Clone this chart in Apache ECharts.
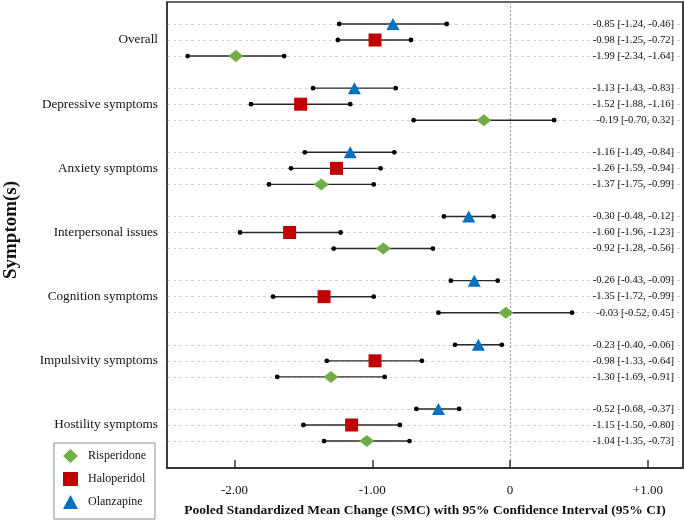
<!DOCTYPE html>
<html><head><meta charset="utf-8">
<script src="https://cdn.jsdelivr.net/npm/echarts@6/dist/echarts.min.js"></script>
<style>html,body{margin:0;padding:0;background:#fff}#c{width:685px;height:520px}</style>
</head><body><div id="c"></div>
<script>
// ---- data ----
const groups = ['Overall','Depressive symptoms','Anxiety symptoms','Interpersonal issues','Cognition symptoms','Impulsivity symptoms','Hostility symptoms'];
const drugNames = ['Olanzapine','Haloperidol','Risperidone']; // row order inside each group (top to bottom)
const olzMean = [-0.85,-1.13,-1.16,-0.30,-0.26,-0.23,-0.52];
const olzLow  = [-1.24,-1.43,-1.49,-0.48,-0.43,-0.40,-0.68];
const olzHigh = [-0.46,-0.83,-0.84,-0.12,-0.09,-0.06,-0.37];
const halMean = [-0.98,-1.52,-1.26,-1.60,-1.35,-0.98,-1.15];
const halLow  = [-1.25,-1.88,-1.59,-1.96,-1.72,-1.33,-1.50];
const halHigh = [-0.72,-1.16,-0.94,-1.23,-0.99,-0.64,-0.80];
const risMean = [-1.99,-0.19,-1.37,-0.92,-0.03,-1.30,-1.04];
const risLow  = [-2.34,-0.70,-1.75,-1.28,-0.52,-1.69,-1.35];
const risHigh = [-1.64,0.32,-0.99,-0.56,0.45,-0.91,-0.73];
const xTickValues = [-2,-1,0,1];
const xTickLabels = ['-2.00','-1.00','0','+1.00'];
const legendOrder = ['Risperidone','Haloperidol','Olanzapine'];

// ---- build ----
const FONT = "'Liberation Serif','Times New Roman',serif";
const drugs = [
  {name:drugNames[0], mean:olzMean, low:olzLow, high:olzHigh, color:'#0070C0', symbol:'triangle', size:[13,12]},
  {name:drugNames[1], mean:halMean, low:halLow, high:halHigh, color:'#C00000', symbol:'rect', size:[13,13]},
  {name:drugNames[2], mean:risMean, low:risLow, high:risHigh, color:'#70AD47', symbol:'diamond', size:[15,12]}
];
const SLOTS = 4;
const rowIndex = (g, d) => g * SLOTS + d;
const allRows = [];
groups.forEach((g, gi) => drugs.forEach((d, di) => allRows.push(rowIndex(gi, di))));
const yMin = -1.37, yMax = 27.68;
const fmt = v => v.toFixed(2);
const ciText = r => {
  const g = Math.floor(r / SLOTS), d = drugs[r % SLOTS];
  return fmt(d.mean[g]) + ' [' + fmt(d.low[g]) + ', ' + fmt(d.high[g]) + ']';
};

const series = [];
series.push({
  type:'scatter', data:[], silent:true, z:1,
  markLine:{
    silent:true, symbol:'none', label:{show:false}, animation:false, z:1,
    data: allRows.map(r => ({yAxis:r, lineStyle:{type:[3,3], color:'#d2d2d2', width:1}}))
      .concat([{xAxis:0, lineStyle:{type:[2,2], color:'#a0a0a0', width:1}}])
  }
});
drugs.forEach((d, di) => {
  series.push({
    type:'custom', z:6, silent:true,
    data: groups.map((g, gi) => [d.low[gi], d.high[gi], rowIndex(gi, di)]),
    encode:{x:[0,1], y:2},
    renderItem(params, api){
      const y = api.value(2);
      const p1 = api.coord([api.value(0), y]);
      const p2 = api.coord([api.value(1), y]);
      return {type:'group', children:[
        {type:'line', shape:{x1:p1[0], y1:p1[1], x2:p2[0], y2:p2[1]}, style:{stroke:'#2a2a2a', lineWidth:1.4}},
        {type:'circle', shape:{cx:p1[0], cy:p1[1], r:2.4}, style:{fill:'#000'}},
        {type:'circle', shape:{cx:p2[0], cy:p2[1], r:2.4}, style:{fill:'#000'}}
      ]};
    }
  });
  series.push({
    type:'scatter', name:d.name, z:8,
    symbol:d.symbol, symbolSize:d.size,
    itemStyle:{color:d.color, opacity:1},
    data: groups.map((g, gi) => [d.mean[gi], rowIndex(gi, di)])
  });
});

const chart = echarts.init(document.getElementById('c'), null, {renderer:'canvas'});
chart.setOption({
  animation:false,
  backgroundColor:'#fff',
  textStyle:{fontFamily:FONT},
  grid:{left:167, right:2, top:2, bottom:52, show:true, borderColor:'#333', borderWidth:1.5, outerBoundsMode:'none', containLabel:false},
  legend:{
    data:legendOrder, orient:'vertical', left:54, top:443,
    backgroundColor:'#fff', borderColor:'#8a8a8a', borderWidth:1, borderRadius:0,
    padding:[6,9,10,9], itemGap:9, itemWidth:15, itemHeight:14,
    textStyle:{fontFamily:FONT, fontSize:12, color:'#111', padding:[0,0,0,5]}
  },
  xAxis:{
    type:'value', min:-2.49, max:1.255, position:'bottom', z:3,
    axisLine:{show:true, onZero:false, lineStyle:{color:'#333', width:2}},
    axisTick:{show:true, inside:true, length:8, customValues:xTickValues, lineStyle:{color:'#333', width:1.5}},
    axisLabel:{customValues:xTickValues, formatter:v => xTickLabels[xTickValues.indexOf(v)], fontFamily:FONT, fontSize:13, color:'#111', margin:16},
    splitLine:{show:false},
    name:'Pooled Standardized Mean Change (SMC) with 95% Confidence Interval (95% CI)',
    nameLocation:'middle', nameGap:36,
    nameTextStyle:{fontFamily:FONT, fontWeight:'bold', fontSize:13.5, color:'#111'}
  },
  yAxis:[
    {
      type:'value', inverse:true, min:yMin, max:yMax, position:'left', z:3,
      axisLine:{show:true, onZero:false, lineStyle:{color:'#333', width:1.5}},
      axisTick:{show:false},
      axisLabel:{customValues:groups.map((g, gi) => rowIndex(gi, 1)), formatter:v => groups[Math.round((v - 1) / SLOTS)], fontFamily:FONT, fontSize:13.2, color:'#111', margin:9},
      splitLine:{show:false}
    },
    {
      type:'value', inverse:true, min:yMin, max:yMax, position:'right', z:3,
      axisLine:{show:true, onZero:false, lineStyle:{color:'#333', width:1.5}},
      axisTick:{show:false},
      axisLabel:{inside:true, customValues:allRows, formatter:v => ciText(Math.round(v)), fontFamily:FONT, fontSize:10.6, color:'#111', margin:9},
      splitLine:{show:false}
    }
  ],
  graphic:[{
    type:'text', x:11, y:230, rotation:Math.PI/2,
    style:{text:'Symptom(s)', font:"bold 19px 'Liberation Serif','Times New Roman',serif", fill:'#111', align:'center', verticalAlign:'middle'}
  }],
  series
});
</script></body></html>
